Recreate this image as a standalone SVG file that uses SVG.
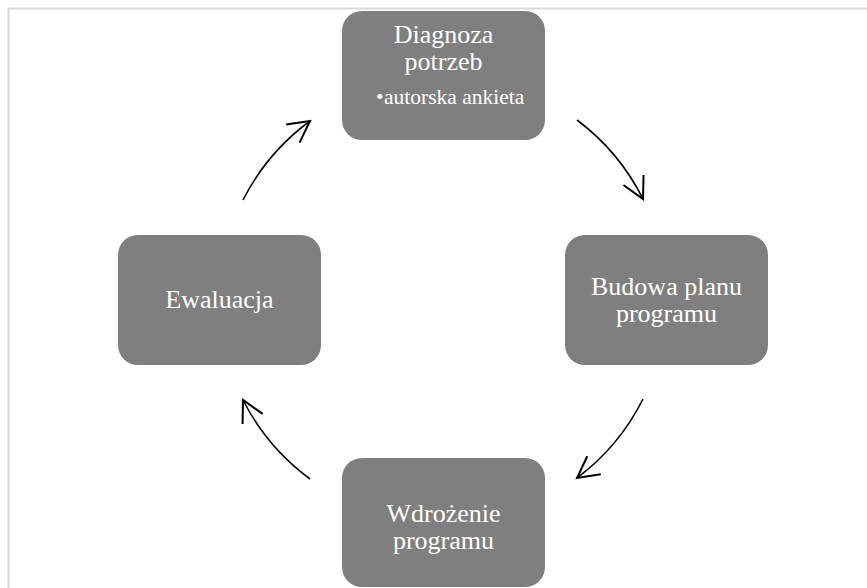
<svg xmlns="http://www.w3.org/2000/svg" width="867" height="588" viewBox="0 0 867 588">
<style>
.box{fill:#7f7f7f;}
.t{font-family:"Liberation Serif","Times New Roman",serif;fill:#ffffff;font-size:26px;text-anchor:middle;}
.s{font-family:"Liberation Serif","Times New Roman",serif;fill:#ffffff;font-size:21.5px;}
.arc{fill:none;stroke:#000;stroke-width:1.6;marker-end:url(#ah);}
</style>
<defs>
<marker id="ah" markerUnits="userSpaceOnUse" markerWidth="30" markerHeight="30" viewBox="-20 -12 24 24" refX="0" refY="0" orient="auto">
<path d="M -17 -9 L 0 0 L -17 9" fill="none" stroke="#000" stroke-width="1.6"/>
</marker>
</defs>
<rect x="0" y="0" width="867" height="588" fill="#ffffff"/>
<rect x="8.5" y="8.5" width="870" height="590" fill="none" stroke="#d9d9d9" stroke-width="2"/>
<g id="connectors">
<path class="arc" d="M 577 120 A 224 224 0 0 1 643 199"/>
<path class="arc" d="M 643 399 A 224 224 0 0 1 577 478"/>
<path class="arc" d="M 310 479 A 224 224 0 0 1 243 400"/>
<path class="arc" d="M 243 200 A 224 224 0 0 1 310 121"/>
</g>
<g id="diagnoza">
<rect class="box" x="342" y="11" width="203" height="129" rx="20"/>
<text class="t" x="443.5" y="43">Diagnoza</text>
<text class="t" x="443.5" y="70">potrzeb</text>
<text class="s" x="376" y="104">•</text>
<text class="s" x="384" y="104">autorska ankieta</text>
</g>
<g id="budowa">
<rect class="box" x="565" y="235" width="203" height="130" rx="20"/>
<text class="t" x="666.5" y="295">Budowa planu</text>
<text class="t" x="666.5" y="322">programu</text>
</g>
<g id="wdrozenie">
<rect class="box" x="342" y="458" width="203" height="129" rx="20"/>
<text class="t" x="443.5" y="522">Wdrożenie</text>
<text class="t" x="443.5" y="549">programu</text>
</g>
<g id="ewaluacja">
<rect class="box" x="118" y="235" width="203" height="130" rx="20"/>
<text class="t" x="219.5" y="308">Ewaluacja</text>
</g>
</svg>
